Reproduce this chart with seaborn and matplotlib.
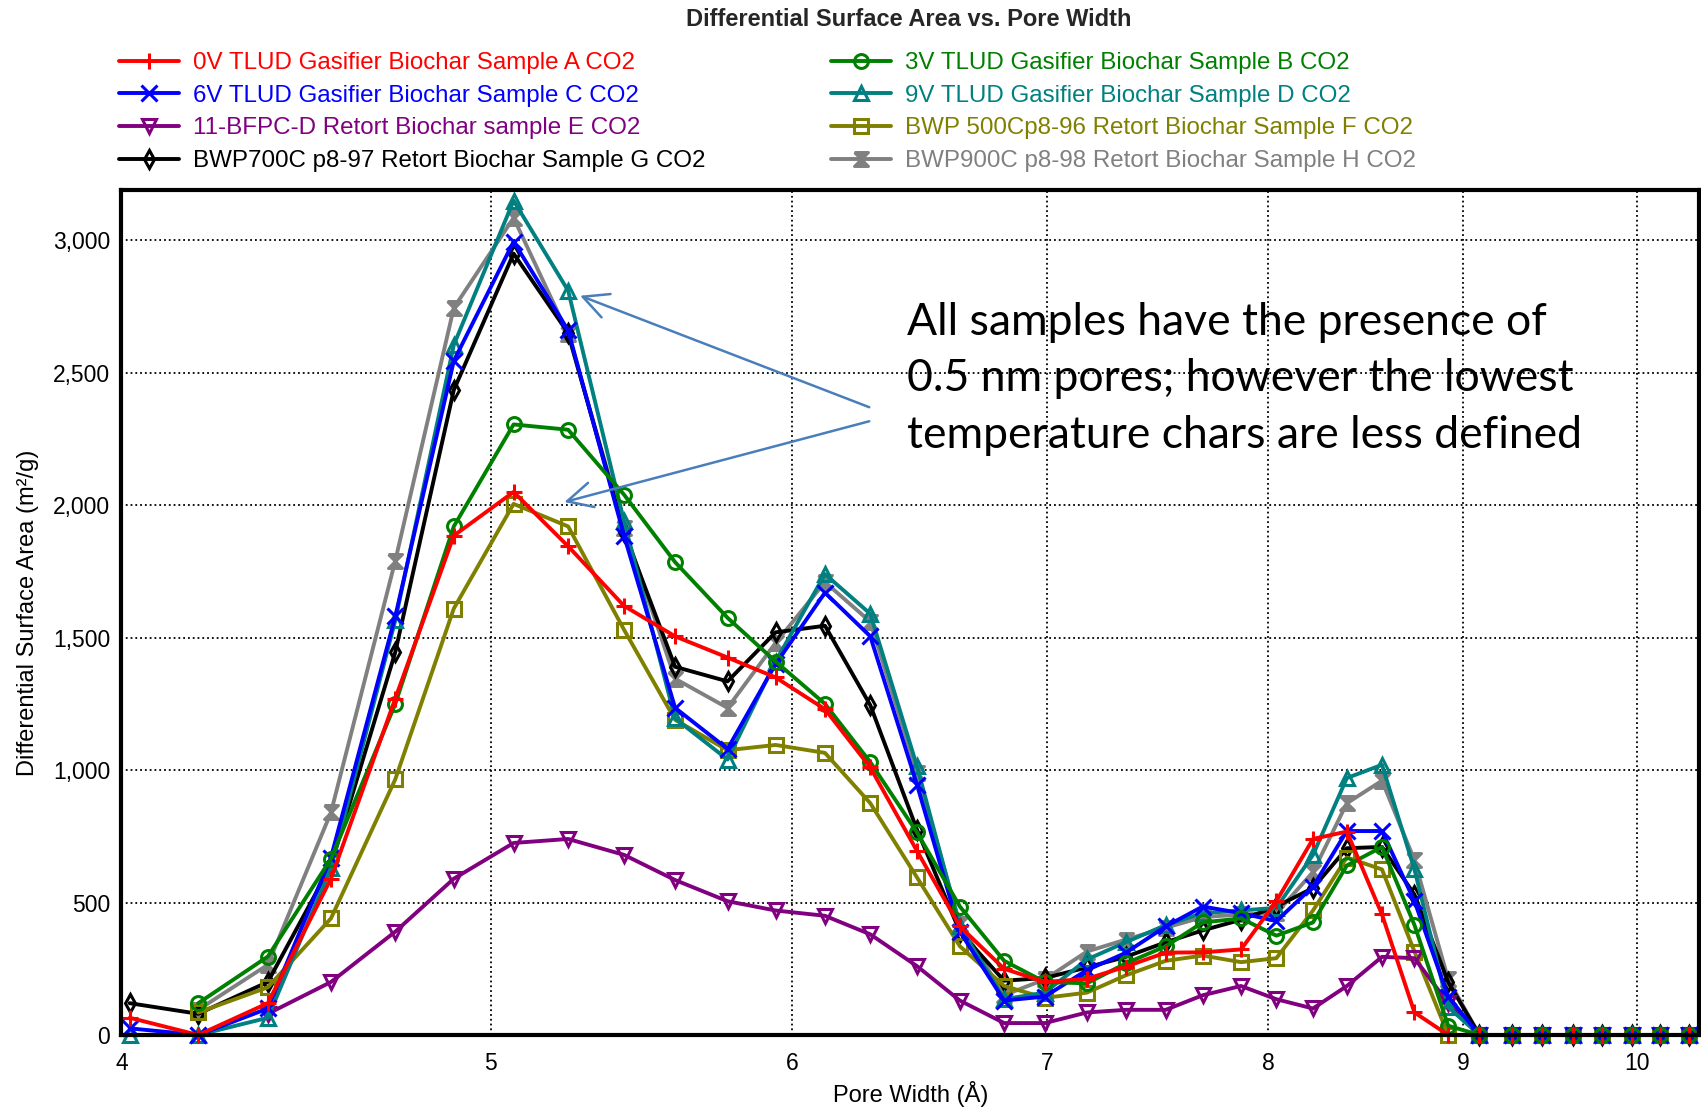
import numpy as np
import pandas as pd
import matplotlib
matplotlib.use("Agg")
import matplotlib.pyplot as plt
from matplotlib.ticker import FixedLocator, FuncFormatter, NullFormatter
import seaborn as sns

# ---------------------------------------------------------------------------
# Data (pore width in Angstrom, area in m2/g)
# ---------------------------------------------------------------------------
pore_width = [4.02, 4.19, 4.37, 4.54, 4.72, 4.89, 5.07, 5.24, 5.42, 5.59,
              5.77, 5.94, 6.12, 6.29, 6.47, 6.64, 6.82, 6.99, 7.17, 7.34,
              7.52, 7.69, 7.87, 8.04, 8.22, 8.39, 8.57, 8.74, 8.92, 9.09,
              9.27, 9.44, 9.62, 9.79, 9.97, 10.14, 10.32]

nan = np.nan
sample_a = [65, 0, 120, 590, 1270, 1885, 2050, 1845, 1620, 1505,
            1425, 1350, 1230, 1010, 695, 410, 250, 200, 212, 258,
            311, 312, 323, 505, 740, 768, 455, 85, 0, 0,
            0, 0, 0, 0, 0, 0, 0]
sample_b = [nan, 120, 296, 665, 1250, 1920, 2305, 2285, 2040, 1785,
            1575, 1410, 1250, 1030, 765, 485, 280, 200, 195, 270,
            335, 425, 440, 375, 425, 640, 710, 415, 35, 0,
            0, 0, 0, 0, 0, 0, 0]
sample_c = [25, 0, 100, 670, 1580, 2545, 2995, 2660, 1885, 1235,
            1080, 1400, 1670, 1505, 945, 390, 130, 145, 245, 310,
            410, 485, 460, 430, 560, 770, 770, 505, 145, 0,
            0, 0, 0, 0, 0, 0, 0]
sample_d = [0, 0, 65, 630, 1565, 2605, 3150, 2810, 1940, 1195,
            1040, 1410, 1740, 1590, 1015, 410, 135, 160, 285, 350,
            415, 460, 470, 480, 680, 970, 1020, 625, 105, 0,
            0, 0, 0, 0, 0, 0, 0]
sample_e = [nan, nan, 80, 200, 390, 590, 725, 740, 680, 585,
            505, 470, 450, 380, 260, 130, 45, 45, 85, 95,
            95, 150, 185, 135, 100, 185, 295, 290, 120, 0,
            0, 0, 0, 0, 0, 0, 0]
sample_f = [nan, 85, 180, 440, 965, 1610, 2005, 1920, 1530, 1190,
            1075, 1095, 1065, 875, 595, 335, 185, 140, 160, 225,
            280, 300, 275, 290, 470, 670, 625, 315, 0, 0,
            0, 0, 0, 0, 0, 0, 0]
sample_g = [120, 80, 200, 640, 1445, 2435, 2950, 2650, 1900, 1390,
            1335, 1520, 1545, 1245, 775, 390, 205, 215, 255, 295,
            350, 395, 435, 485, 555, 705, 710, 530, 200, 0,
            0, 0, 0, 0, 0, 0, 0]
sample_h = [nan, 95, 265, 840, 1790, 2745, 3085, 2645, 1915, 1345,
            1235, 1480, 1710, 1560, 990, 420, 150, 210, 315, 360,
            405, 445, 455, 460, 615, 875, 960, 660, 210, 0,
            0, 0, 0, 0, 0, 0, 0]

labels = ["0V TLUD Gasifier Biochar Sample A CO2",
          "3V TLUD Gasifier Biochar Sample B CO2",
          "6V TLUD Gasifier Biochar Sample C CO2",
          "9V TLUD Gasifier Biochar Sample D CO2",
          "11-BFPC-D Retort Biochar sample E CO2",
          "BWP 500Cp8-96 Retort Biochar Sample F CO2",
          "BWP700C p8-97 Retort Biochar Sample G CO2",
          "BWP900C p8-98 Retort Biochar Sample H CO2"]
series = [sample_a, sample_b, sample_c, sample_d,
          sample_e, sample_f, sample_g, sample_h]

colors = ["#ff0000", "#008000", "#0000ff", "#008080",
          "#800080", "#808000", "#000000", "#808080"]
hourglass = [(-1, 1), (1, 1), (-1, -1), (1, -1), (-1, 1)]
markers = ["+", "o", "x", "^", "v", "s", "d", hourglass]
marker_sizes = [12, 10, 11, 10, 10, 10, 9, 10]
open_marker = [False, True, False, True, True, True, True, False]

# ---------------------------------------------------------------------------
# Figure
# ---------------------------------------------------------------------------
sns.set_theme(style="white")
plt.rcParams['font.family'] = ['Liberation Sans', 'DejaVu Sans']

fig = plt.figure(figsize=(17.01, 11.08), dpi=100)
ax = fig.add_axes([0.0714, 0.0659, 0.9274, 0.7626])
ax.set_xscale('log')

# draw last sample first so sample A ends up on top
for i in reversed(range(len(series))):
    df = pd.DataFrame({"width": pore_width, "area": series[i]})
    sns.lineplot(data=df, x="width", y="area", ax=ax,
                 color=colors[i], linewidth=2.8, errorbar=None,
                 marker=markers[i], markersize=marker_sizes[i],
                 markeredgecolor=colors[i], markeredgewidth=2.2,
                 markerfacecolor="none" if open_marker[i] else colors[i],
                 label=labels[i], clip_on=False)

ax.set_xlim(4, 10.38)
ax.set_ylim(0, 3190)

ax.xaxis.set_major_locator(FixedLocator([4, 5, 6, 7, 8, 9, 10]))
ax.xaxis.set_major_formatter(FuncFormatter(lambda v, p: f"{v:g}"))
minor_x = [round(4 + 0.2 * k, 1) for k in range(1, 32)]
ax.xaxis.set_minor_locator(FixedLocator([v for v in minor_x if v % 1 != 0]))
ax.xaxis.set_minor_formatter(NullFormatter())

ax.yaxis.set_major_locator(FixedLocator(range(0, 3001, 500)))
ax.yaxis.set_minor_locator(FixedLocator(range(0, 3101, 100)))
ax.yaxis.set_major_formatter(FuncFormatter(lambda v, p: f"{int(v):,}"))

ax.tick_params(which='both', direction='out', length=5, width=1.5,
               color='black', labelsize=16.5, labelcolor='black')
ax.tick_params(axis='x', which='major', pad=7)
ax.tick_params(axis='y', which='major', pad=3)

ax.grid(True, which='major', color='black', linestyle=':', linewidth=1.3)
for side in ['left', 'right', 'top', 'bottom']:
    ax.spines[side].set_color('black')
    ax.spines[side].set_linewidth(3)

ax.set_xlabel("Pore Width (Å)", fontsize=17, color='black')
ax.set_ylabel("Differential Surface Area (m²/g)", fontsize=17, color='black')
ax.xaxis.set_label_coords(0.5, -0.054)
ax.yaxis.set_label_coords(-0.052, 0.5)

fig.text(0.5344, 0.9825, "Differential Surface Area vs. Pore Width",
         ha='center', va='center', fontsize=17, fontweight='bold')

# legend: two columns, text in series colour
handles, labs = ax.get_legend_handles_labels()
lookup = dict(zip(labs, handles))
order = [0, 2, 4, 6, 1, 3, 5, 7]
if ax.get_legend() is not None:
    ax.get_legend().remove()
fig.legend([lookup[labels[k]] for k in order], [labels[k] for k in order],
           ncol=2, loc='upper left', bbox_to_anchor=(0.070, 0.953),
           frameon=False, fontsize=17.4, labelcolor='linecolor',
           handlelength=2.5, handletextpad=0.55, columnspacing=5.2,
           labelspacing=0.44, borderpad=0, borderaxespad=0)

# callout
ax.text(6.43, 2478,
        "All samples have the presence of\n0.5 nm pores; however the lowest\n"
        "temperature chars are less defined",
        ha='left', va='center', fontsize=32, family=['Lato', 'DejaVu Sans'],
        color='black', linespacing=1.47)
arrow_kw = dict(arrowstyle='->', color='#4a7ebb', lw=1.8,
                mutation_scale=45, shrinkA=0, shrinkB=0)
ax.annotate('', xy=(5.278, 2791), xytext=(6.286, 2370), arrowprops=arrow_kw)
ax.annotate('', xy=(5.228, 2012), xytext=(6.286, 2317), arrowprops=arrow_kw)

fig.savefig("out.png", dpi=100)
